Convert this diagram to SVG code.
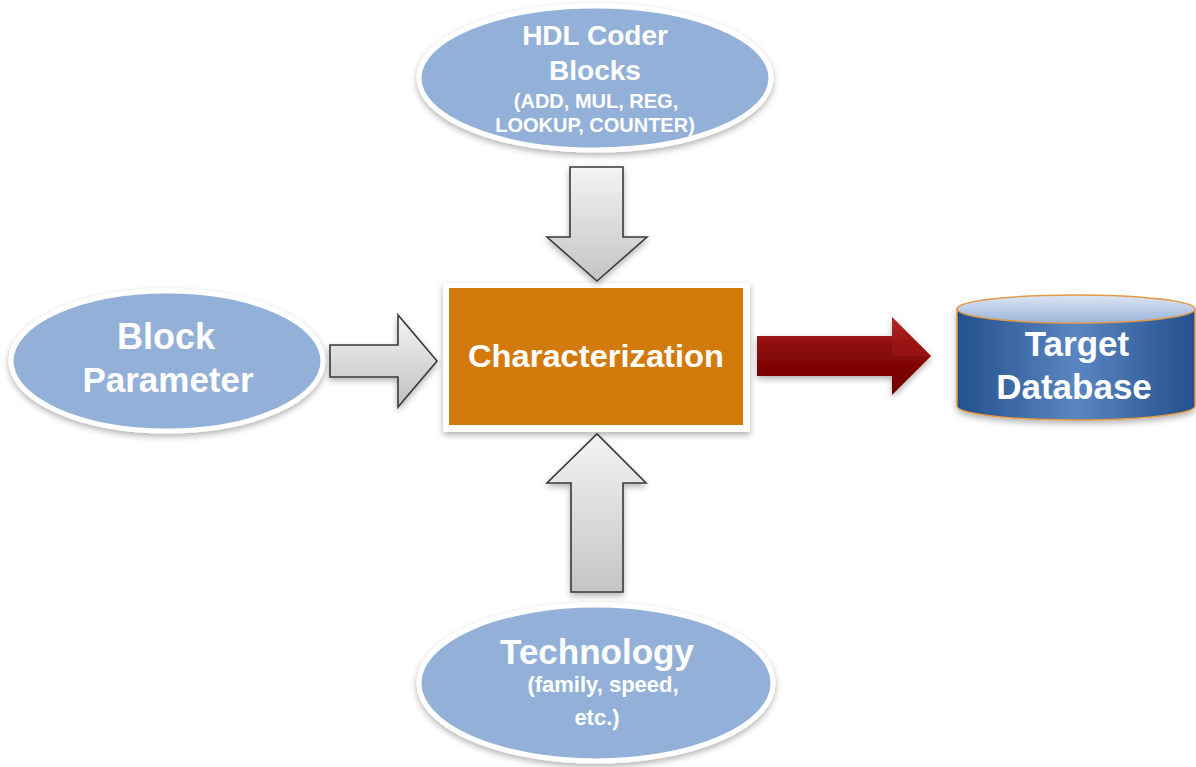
<svg xmlns="http://www.w3.org/2000/svg" width="1196" height="767" viewBox="0 0 1196 767">
<defs>
  <filter id="sh" x="-20%" y="-20%" width="140%" height="140%">
    <feDropShadow dx="0" dy="3" stdDeviation="3" flood-color="#000" flood-opacity="0.3"/>
  </filter>
  <linearGradient id="gray" x1="0" y1="0" x2="0" y2="1">
    <stop offset="0" stop-color="#F4F4F4"/>
    <stop offset="1" stop-color="#C4C4C4"/>
  </linearGradient>
  <linearGradient id="grayH" x1="0" y1="0" x2="0" y2="1">
    <stop offset="0" stop-color="#F4F4F4"/>
    <stop offset="1" stop-color="#C0C0C0"/>
  </linearGradient>
  <linearGradient id="red" x1="0" y1="0" x2="0" y2="1">
    <stop offset="0" stop-color="#C43A3A"/>
    <stop offset="0.35" stop-color="#8E0A0A"/>
    <stop offset="1" stop-color="#6E0000"/>
  </linearGradient>
  <linearGradient id="cylBody" x1="0" y1="0" x2="1" y2="0">
    <stop offset="0" stop-color="#23508C"/>
    <stop offset="0.5" stop-color="#5A86C2"/>
    <stop offset="1" stop-color="#23508C"/>
  </linearGradient>
  <linearGradient id="cylTop" x1="0" y1="0" x2="0" y2="1">
    <stop offset="0" stop-color="#DCE6F4"/>
    <stop offset="1" stop-color="#9AB4DA"/>
  </linearGradient>
  <style>
    .ell { fill: #93B1D8; stroke: #FFFFFF; stroke-width: 5; }
    .garrow { stroke: #3A3A3A; stroke-width: 1.6; stroke-linejoin: miter; }
    .t { font-family: "Liberation Sans", Arial, sans-serif; font-weight: bold; fill: #FFFFFF; text-anchor: middle; }
  </style>
</defs>
<rect width="1196" height="767" fill="#FFFFFF"/>

<g id="hdl-coder-blocks">
  <ellipse class="ell" cx="595" cy="78" rx="176" ry="72" filter="url(#sh)"/>
  <text class="t" x="595" y="45" font-size="28">HDL Coder</text>
  <text class="t" x="595" y="80" font-size="28">Blocks</text>
  <text class="t" x="596" y="108" font-size="20">(ADD, MUL, REG,</text>
  <text class="t" x="595" y="132" font-size="20">LOOKUP, COUNTER)</text>
</g>

<g id="block-parameter">
  <ellipse class="ell" cx="167" cy="361" rx="156" ry="70" filter="url(#sh)"/>
  <text class="t" x="166" y="349" font-size="36">Block</text>
  <text class="t" x="168" y="392" font-size="35">Parameter</text>
</g>

<g id="characterization">
  <rect x="443" y="283" width="307" height="149" fill="#FFFFFF" filter="url(#sh)"/>
  <rect x="449" y="288" width="294" height="137" fill="#D27A0C"/>
  <text class="t" x="596" y="367" font-size="31" textLength="256" lengthAdjust="spacingAndGlyphs">Characterization</text>
</g>

<g id="target-database">
  <path d="M957,309 L957,406 A119,14 0 0 0 1195,406 L1195,309 Z" fill="url(#cylBody)" stroke="#E39A45" stroke-width="1.5" filter="url(#sh)"/>
  <ellipse cx="1076" cy="309" rx="119" ry="14" fill="url(#cylTop)" stroke="#E39A45" stroke-width="1.5"/>
  <text class="t" x="1077" y="356" font-size="35">Target</text>
  <text class="t" x="1074" y="399" font-size="35">Database</text>
</g>

<g id="technology">
  <ellipse class="ell" cx="596" cy="683" rx="177" ry="78" filter="url(#sh)"/>
  <text class="t" x="597" y="664" font-size="35">Technology</text>
  <text class="t" x="603" y="692" font-size="22">(family, speed,</text>
  <text class="t" x="597" y="725" font-size="22">etc.)</text>
</g>

<g id="connectors">
  <polygon class="garrow" fill="url(#gray)" points="570,167 623,167 623,237 647,237 597,281 547,237 570,237" filter="url(#sh)"/>
  <polygon class="garrow" fill="url(#grayH)" points="330,345 398,345 398,315 437,361 398,407 398,377 330,377" filter="url(#sh)"/>
  <polygon class="garrow" fill="url(#gray)" points="571,592 623,592 623,483 646,483 597,434 547,483 571,483" filter="url(#sh)"/>
  <polygon fill="url(#red)" points="757,336 892,336 892,317 931,356 892,395 892,376 757,376" filter="url(#sh)"/>
  <polygon fill="#A31A1A" opacity="0.5" points="892,317 931,356 892,356"/>
</g>
</svg>
